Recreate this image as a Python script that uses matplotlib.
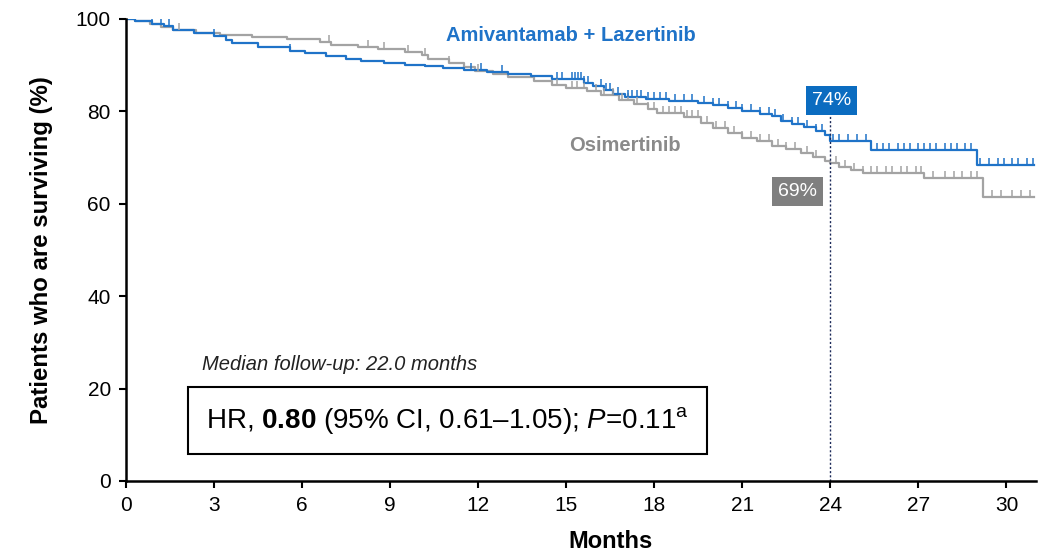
import numpy as np
import matplotlib
matplotlib.use("Agg")
import matplotlib.pyplot as plt

plt.rcParams['font.family'] = ['Liberation Sans', 'DejaVu Sans']
plt.rcParams['mathtext.fontset'] = 'custom'
plt.rcParams['mathtext.rm'] = 'Liberation Sans'
plt.rcParams['mathtext.bf'] = 'Liberation Sans:bold'
plt.rcParams['mathtext.it'] = 'Liberation Sans:italic'

# Kaplan-Meier step knots: (month, % surviving)
ami_t = [0, 0.3, 0.9, 1.3, 1.6, 2.3, 3.0, 3.4, 3.6, 4.5, 5.6, 6.1, 6.8, 7.5, 8.0, 8.8,
         9.5, 10.2, 10.8, 11.5, 12.3, 13.0, 13.8, 14.5, 15.6, 15.9, 16.3, 16.6, 17.0,
         17.7, 18.5, 19.5, 20.0, 20.5, 21.0, 21.6, 22.0, 22.3, 22.7, 23.1, 23.5, 23.8,
         24.0, 25.4, 29.0, 30.95]
ami_s = [100, 99.6, 99.0, 98.5, 97.5, 97.0, 96.3, 95.5, 94.8, 94.0, 93.0, 92.6, 91.9,
         91.4, 91.0, 90.5, 90.1, 89.8, 89.4, 88.9, 88.5, 88.0, 87.6, 87.0, 86.2, 85.4,
         84.6, 83.8, 83.2, 82.7, 82.2, 81.8, 81.4, 80.8, 80.0, 79.5, 78.9, 77.9, 77.3,
         76.6, 75.7, 74.8, 73.6, 71.7, 68.3, 68.3]

osi_t = [0, 0.3, 0.8, 1.2, 1.6, 2.4, 3.2, 4.3, 5.5, 6.6, 7.0, 7.9, 8.6, 9.5, 10.1,
         10.3, 11.0, 11.5, 11.9, 12.5, 13.0, 13.9, 14.5, 15.0, 15.7, 16.2, 16.8, 17.3,
         17.8, 18.1, 19.0, 19.6, 20.0, 20.5, 21.0, 21.5, 22.0, 22.5, 23.0, 23.4, 23.8,
         24.0, 24.3, 24.7, 25.1, 27.2, 29.2, 30.95]
osi_s = [100, 99.6, 99.0, 98.3, 97.6, 97.0, 96.5, 96.1, 95.6, 95.0, 94.4, 93.9, 93.4,
         92.9, 92.3, 91.3, 90.5, 89.7, 88.7, 88.1, 87.4, 86.5, 85.8, 85.1, 84.4, 83.6,
         82.5, 81.6, 80.6, 79.6, 78.8, 77.5, 76.3, 75.3, 74.3, 73.5, 72.6, 71.8, 71.0,
         70.2, 69.3, 68.8, 68.0, 67.3, 66.7, 65.5, 61.5, 61.5]

# censoring times (months)
ami_cens = [0.1, 0.15, 0.2, 0.25, 0.3, 0.9, 1.2, 1.45, 3.0, 5.6, 11.75, 12.1, 12.8,
            14.7, 14.85, 15.2, 15.3, 15.4, 15.5, 15.6, 15.75, 16.2, 16.35, 16.5, 16.75,
            17.1, 17.25, 17.4, 17.55, 17.8, 18.0, 18.2, 18.4, 18.7, 19.0, 19.3, 19.7,
            20.0, 20.2, 20.5, 20.8, 21.0, 21.3, 21.6, 21.9, 22.1, 22.4, 22.7, 22.9,
            23.2, 23.5, 23.7, 24.1, 24.3, 24.6, 24.9, 25.2, 25.6, 25.8, 26.0, 26.3,
            26.5, 26.7, 27.0, 27.2, 27.4, 27.6, 27.9, 28.1, 28.3, 28.6, 28.8, 29.1,
            29.4, 29.7, 29.9, 30.2, 30.4, 30.7, 30.9]
osi_cens = [1.8, 6.9, 8.25, 8.8, 9.6, 10.2, 11.0, 12.0, 14.7, 15.2, 15.35, 15.6, 16.0,
            16.3, 16.6, 16.9, 17.1, 17.4, 17.8, 18.0, 18.3, 18.5, 18.7, 18.9, 19.1,
            19.3, 19.5, 19.8, 20.1, 20.4, 20.7, 21.0, 21.3, 21.6, 21.9, 22.2, 22.5,
            22.8, 23.2, 23.5, 24.2, 24.5, 24.8, 25.1, 25.4, 25.6, 25.9, 26.1, 26.4,
            26.6, 26.9, 27.1, 27.5, 27.9, 28.2, 28.5, 28.8, 29.0, 29.5, 29.8, 30.2,
            30.5, 30.8]

landmark = 24
ami_24 = 74
osi_24 = 69

blue = '#1f73c8'
grey = '#a3a3a3'


def step_at(t, s, x):
    idx = np.searchsorted(t, x, side='right') - 1
    return np.asarray(s)[idx]


fig = plt.figure(figsize=(10.4, 5.54), dpi=100)
ax = fig.add_axes([0.1212, 0.1318, 0.8748, 0.834])

ax.plot(osi_t, osi_s, drawstyle='steps-post', color=grey, lw=1.6)
ax.plot(ami_t, ami_s, drawstyle='steps-post', color=blue, lw=1.6)
ax.plot(osi_cens, step_at(osi_t, osi_s, osi_cens), ls='none', marker=2,
        ms=5, mew=1.1, color=grey)
ax.plot(ami_cens, step_at(ami_t, ami_s, ami_cens), ls='none', marker=2,
        ms=5, mew=1.1, color=blue)

# 24-month landmark
ax.plot([landmark, landmark], [0, 79], ls=(0, (1.5, 1.5)), lw=1, color='#1c2a5a')
ax.text(landmark + 0.03, 82.3, f'{ami_24}%', color='white', fontsize=14,
        ha='center', va='center',
        bbox=dict(boxstyle='square,pad=0.3', fc='#0b6cc0', ec='none'))
ax.text(22.87, 62.7, f'{osi_24}%', color='white', fontsize=14,
        ha='center', va='center',
        bbox=dict(boxstyle='square,pad=0.3', fc='#7f7f7f', ec='none'))

ax.text(10.9, 96.4, 'Amivantamab + Lazertinib', color=blue, fontsize=14.5,
        fontweight='bold', ha='left', va='center')
ax.text(15.1, 72.6, 'Osimertinib', color='#8a8a8a', fontsize=14.5,
        fontweight='bold', ha='left', va='center')

ax.text(2.6, 25.3, 'Median follow-up: 22.0 months', fontsize=14.5,
        fontstyle='italic', ha='left', va='center', color='#222222')
ax.text(10.95, 13.0,
        r'HR, $\mathbf{0.80}$ (95% CI, 0.61–1.05); $\mathit{P}$=0.11$^{\mathrm{a}}$',
        fontsize=20, ha='center', va='center',
        bbox=dict(boxstyle='square,pad=0.65', fc='white', ec='black', lw=1.5))

ax.set_xlim(0, 31)
ax.set_ylim(0, 100)
ax.set_xticks(np.arange(0, 31, 3))
ax.set_yticks(np.arange(0, 101, 20))
ax.tick_params(labelsize=15, length=5, width=1.5, direction='out', pad=6)
for side in ['top', 'right']:
    ax.spines[side].set_visible(False)
for side in ['left', 'bottom']:
    ax.spines[side].set_linewidth(1.8)

ax.set_xlabel('Months', fontsize=17, fontweight='bold', va='center')
ax.xaxis.set_label_coords(0.533, -0.13)
ax.set_ylabel('Patients who are surviving (%)', fontsize=17.3, fontweight='bold',
              labelpad=16)

fig.savefig('out.png', dpi=100)
